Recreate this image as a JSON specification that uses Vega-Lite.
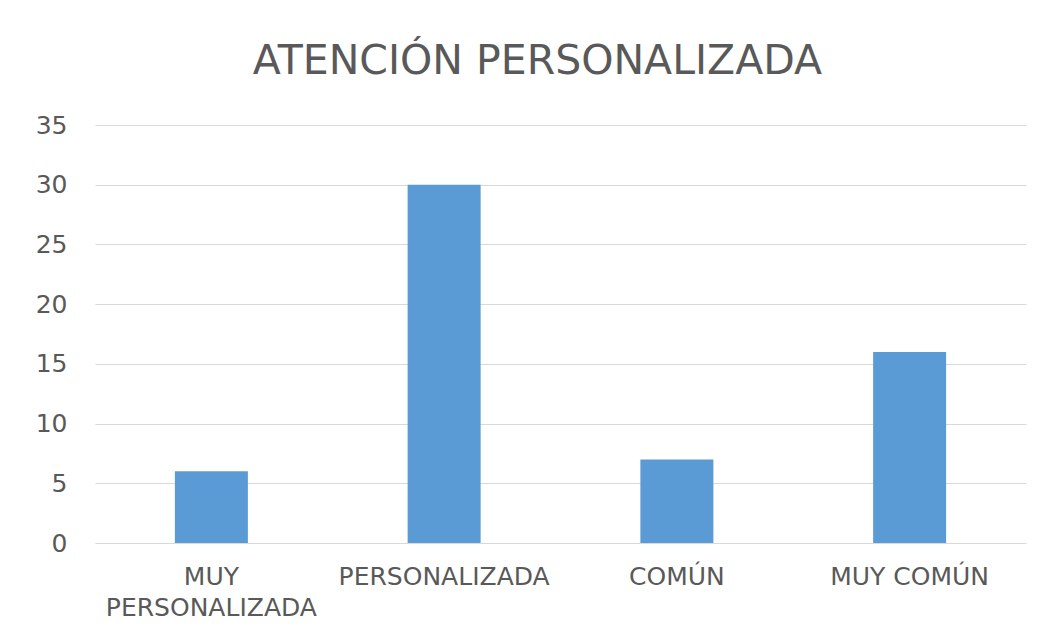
{
  "$schema": "https://vega.github.io/schema/vega-lite/v6.json",
  "width": 931,
  "height": 418,
  "autosize": "none",
  "padding": {"left": 95, "top": 125, "right": 27, "bottom": 94},
  "background": "white",
  "title": {
    "text": "ATENCIÓN PERSONALIZADA",
    "anchor": "middle",
    "frame": "group",
    "font": "DejaVu Sans",
    "fontSize": 41,
    "fontWeight": "normal",
    "color": "#595959",
    "offset": 30,
    "dx": -23
  },
  "data": {
    "values": [
      {"categoria": "MUY PERSONALIZADA", "valor": 6},
      {"categoria": "PERSONALIZADA", "valor": 30},
      {"categoria": "COMÚN", "valor": 7},
      {"categoria": "MUY COMÚN", "valor": 16}
    ]
  },
  "mark": {"type": "bar", "color": "#5B9BD5", "width": 73},
  "encoding": {
    "x": {
      "field": "categoria",
      "type": "nominal",
      "sort": null,
      "title": null,
      "scale": {"paddingInner": 0, "paddingOuter": 0},
      "axis": {
        "labelAngle": 0,
        "labelFont": "DejaVu Sans",
        "labelFontSize": 25,
        "labelColor": "#595959",
        "labelPadding": 21,
        "labelLineHeight": 31,
        "labelBaseline": "top",
        "labelLimit": 0,
        "labelOverlap": false,
        "ticks": false,
        "domain": false,
        "labelExpr": "datum.value == 'MUY PERSONALIZADA' ? ['MUY', 'PERSONALIZADA'] : datum.value"
      }
    },
    "y": {
      "field": "valor",
      "type": "quantitative",
      "title": null,
      "scale": {"domain": [0, 35], "nice": false},
      "axis": {
        "values": [0, 5, 10, 15, 20, 25, 30, 35],
        "labelFont": "DejaVu Sans",
        "labelFontSize": 25,
        "labelColor": "#595959",
        "labelPadding": 28,
        "ticks": false,
        "domain": false,
        "gridColor": "#d9d9d9",
        "gridWidth": 1.2
      }
    }
  },
  "config": {"view": {"stroke": null}}
}
